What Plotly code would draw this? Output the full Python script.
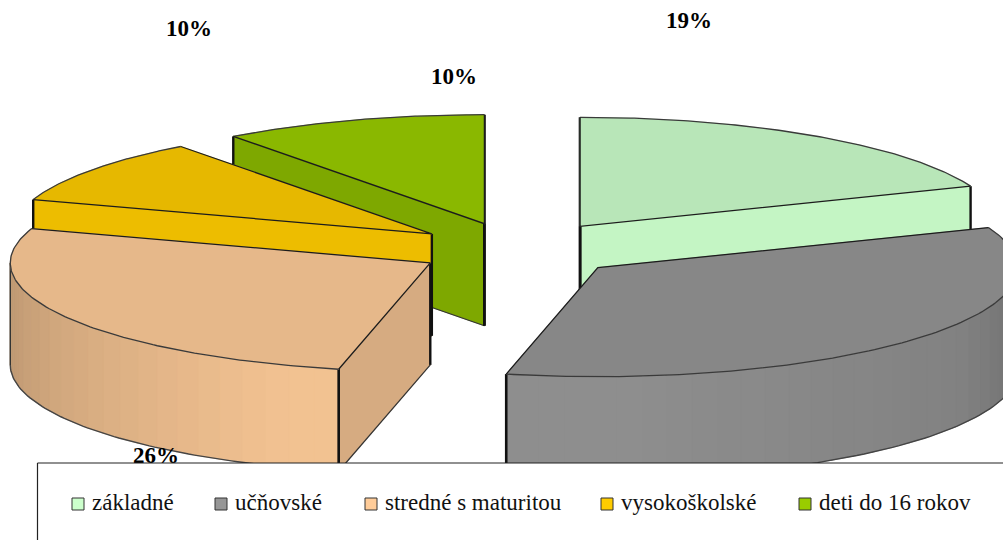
import numpy as np
import plotly.graph_objects as go

# --- data -------------------------------------------------------------
categories = ["základné", "učňovské", "stredné s maturitou", "vysokoškolské", "deti do 16 rokov"]
shares = [19.0, 34.5, 26.6, 9.7, 10.2]
colors = ["#CCFFCC", "#969696", "#FFCC99", "#FFCC00", "#99CC00"]
explode = [0.263, 0.25, 0.24, 0.253, 0.254]
draw_order = [0, 4, 3, 2, 1]

label_texts = ["19%", "26%", "10%", "10%"]
label_x = [689, 156, 189, 454]
label_y = [22, 457, 30, 78]

legend_x = [78, 221, 371, 607, 805]
legend_y = 504

# --- projection (pixels of a 1003x540 page) ---------------------------
CX, CY = 518, 250
RX, RY = 420, 109
DEPTH = 102
W, H = 1003, 540
FONT = "Liberation Serif"


def shade(hex_color, f):
    r, g, b = (int(hex_color[i:i + 2], 16) for i in (1, 3, 5))
    return f"rgb({round(r * f)},{round(g * f)},{round(b * f)})"


def wall_factor(a):
    return float(np.interp(np.degrees(a), [90, 120, 180, 200, 230, 270],
                           [0.72, 0.86, 0.95, 0.95, 0.86, 0.73]))


def face_factor(normal_deg):
    return float(np.interp(normal_deg % 360, [104, 158, 198, 234], [0.84, 0.96, 0.93, 0.82]))


fig = go.Figure()


def poly(xs, ys, fill):
    fig.add_trace(go.Scatter(
        x=xs, y=ys, mode="lines", fill="toself", fillcolor=fill,
        line=dict(color=fill, width=0.6),
        hoverinfo="skip", showlegend=False))


def stroke(xs, ys, color="#1a1a1a", width=1.0):
    fig.add_trace(go.Scatter(
        x=xs, y=ys, mode="lines", line=dict(color=color, width=width),
        hoverinfo="skip", showlegend=False))


edges = np.cumsum([0] + shares) / sum(shares) * 2 * np.pi
for i in draw_order:
    a0, a1 = edges[i], edges[i + 1]
    mid = (a0 + a1) / 2
    ox = CX + RX * explode[i] * np.sin(mid)
    oy = CY - RY * explode[i] * np.cos(mid)
    col = colors[i]
    arc = np.linspace(a0, a1, 121)
    ax = ox + RX * np.sin(arc)
    ay = oy - RY * np.cos(arc)

    # cut faces that look towards the viewer
    for edge_a, visible, turn in ((a0, np.sin(a0) < -1e-6, -90), (a1, np.sin(a1) > 1e-6, 90)):
        if visible:
            rx, ry = ox + RX * np.sin(edge_a), oy - RY * np.cos(edge_a)
            poly([ox, rx, rx, ox, ox], [oy, ry, ry + DEPTH, oy + DEPTH, oy],
                 shade(col, face_factor(np.degrees(edge_a) + turn)))
            stroke([rx, ox], [ry + DEPTH, oy + DEPTH], "#333333", 1.2)
            stroke([rx, rx], [ry, ry + DEPTH], "#111111", 2.4)
            stroke([ox, ox], [oy, oy + DEPTH], "#111111", 2.4)

    # outer wall, in narrow bands so that the shading steps along the rim
    lo, hi = max(a0, np.pi / 2), min(a1, 3 * np.pi / 2)
    if hi > lo:
        bands = np.arange(lo, hi, np.radians(3.5))
        bands = np.append(bands, hi)
        for b0, b1 in zip(bands[:-1], bands[1:]):
            t = np.linspace(b0, min(b1 + 0.004, hi), 6)
            bx = ox + RX * np.sin(t)
            by = oy - RY * np.cos(t)
            poly(np.r_[bx, bx[::-1], bx[0]], np.r_[by, by[::-1] + DEPTH, by[0]],
                 shade(col, wall_factor((b0 + b1) / 2)))
        t = np.linspace(lo, hi, 80)
        stroke(ox + RX * np.sin(t), oy - RY * np.cos(t) + DEPTH, "#444444", 1.4)
        if a1 >= 3 * np.pi / 2:
            stroke([ox - RX, ox - RX], [oy, oy + DEPTH], "#333333", 1.4)
        if a0 <= np.pi:
            rx, ry = ox + RX * np.sin(a1), oy - RY * np.cos(a1)
            stroke([rx, rx], [ry, ry + DEPTH], "#111111", 2.6)
        if a0 > np.pi / 2:
            rx, ry = ox + RX * np.sin(a0), oy - RY * np.cos(a0)
            stroke([rx, rx], [ry, ry + DEPTH], "#111111", 2.6)

    # heavy vertical edge at the back of the first and last slice
    if a0 < 1e-6:
        stroke([ox, ox], [ay[0], oy + DEPTH], "#111111", 2.8)
    if abs(a1 - 2 * np.pi) < 1e-6:
        stroke([ox, ox], [ay[-1], oy + DEPTH], "#111111", 2.8)

    # top face
    poly(np.r_[ox, ax, ox], np.r_[oy, ay, oy], shade(col, 0.9))
    stroke(ax, ay, "#3a3a3a", 1.3)
    stroke([ax[0], ox, ax[-1]], [ay[0], oy, ay[-1]], "#1c1c1c", 1.3)

# percentage labels (the box below covers the lower part of 26 %)
fig.add_trace(go.Scatter(
    x=label_x, y=label_y, mode="text", text=label_texts,
    textposition="middle center",
    textfont=dict(family=FONT, size=23, color="black", weight="bold"),
    hoverinfo="skip", showlegend=False))

# legend box, running off the page on the right and at the bottom
fig.add_trace(go.Scatter(
    x=[37.5, W + 20, W + 20, 37.5, 37.5], y=[463, 463, H + 20, H + 20, 463],
    mode="lines", fill="toself", fillcolor="white",
    line=dict(color="#222222", width=1.2),
    hoverinfo="skip", showlegend=False))

for name, col, lx in zip(categories, colors, legend_x):
    fig.add_trace(go.Scatter(
        x=[lx], y=[legend_y], mode="markers",
        marker=dict(symbol="square", size=12, color=col,
                    line=dict(color="#333333", width=1)),
        hoverinfo="skip", showlegend=False))
    fig.add_trace(go.Scatter(
        x=[lx + 14], y=[legend_y], mode="text", text=[name],
        textposition="middle right",
        textfont=dict(family=FONT, size=23, color="#111111"),
        hoverinfo="skip", showlegend=False))

fig.update_layout(
    width=W, height=H,
    margin=dict(l=0, r=0, t=0, b=0),
    paper_bgcolor="white", plot_bgcolor="white",
    xaxis=dict(range=[0, W], visible=False, fixedrange=True),
    yaxis=dict(range=[H, 0], visible=False, fixedrange=True),
    showlegend=False,
)
fig.write_html("out.html", config=dict(displayModeBar=False),
               post_script="document.body.style.margin='0';document.body.style.overflow='hidden';")
